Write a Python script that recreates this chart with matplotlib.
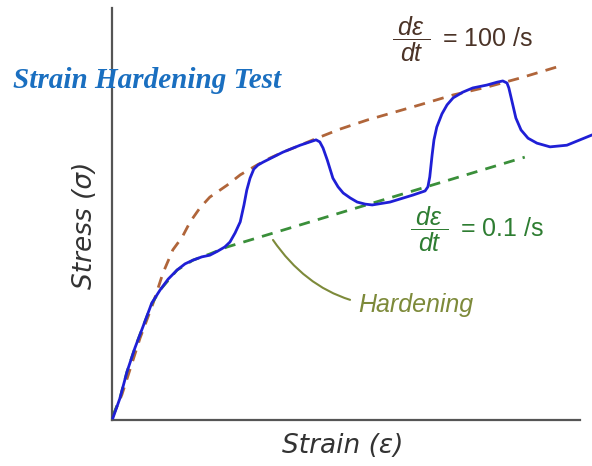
import matplotlib.pyplot as plt

plt.rcParams['mathtext.fontset'] = 'custom'
plt.rcParams['mathtext.rm'] = 'Liberation Sans'
plt.rcParams['mathtext.it'] = 'Liberation Sans:italic'

# strain / stress readings (arbitrary units, 0-100)
strain_test = [0.2, 1.7, 3.2, 4.9, 6.6, 8.5, 10.3, 12.0, 13.9, 15.6,
               17.3, 19.2, 20.9, 22.6, 24.1, 25.2, 26.3, 27.4, 28.2, 28.8,
               29.5, 30.3, 31.2, 32.3, 34.4, 36.5, 40.2, 42.3, 43.6, 44.4,
               45.1, 46.0, 47.2, 48.3, 49.4, 50.9, 52.4, 54.1, 55.6, 59.4,
               64.3, 66.9, 67.5, 67.9, 68.4, 68.8, 69.4, 70.5, 71.6, 72.9,
               75.0, 77.1, 80.1, 82.3, 83.5, 84.4, 84.8, 85.5, 86.3, 87.4,
               88.9, 90.8, 93.6, 97.2, 100.0, 102.6]
stress_test = [0.5, 5.3, 11.7, 17.5, 22.6, 28.4, 31.6, 34.2, 36.4, 37.9,
               38.8, 39.6, 40.0, 41.0, 42.0, 43.2, 45.4, 48.1, 52.2, 55.8,
               58.7, 60.9, 61.9, 62.6, 63.8, 65.0, 66.7, 67.5, 68.0, 67.5,
               66.0, 63.1, 58.7, 56.6, 55.1, 53.9, 52.9, 52.4, 52.2, 52.9,
               54.6, 55.6, 56.6, 59.0, 64.3, 68.0, 71.1, 74.3, 76.5, 78.2,
               79.6, 80.6, 81.3, 82.0, 82.3, 81.8, 80.6, 77.2, 73.3, 70.4,
               68.4, 67.2, 66.3, 66.7, 68.0, 69.2]

strain_fast = [0.2, 2.1, 3.8, 6.0, 8.8, 10.9, 13.0, 15.0, 16.7, 18.8, 20.9, 24.6, 27.4, 31.0,
               33.8, 36.5, 40.2, 43.8, 48.7, 54.5, 65.8, 72.9, 80.1, 87.2, 95.1]
stress_fast = [1.0, 6.1, 12.1, 19.9, 28.4, 35.7, 41.3, 44.4, 48.1, 51.5, 54.1, 57.0, 59.5, 61.9,
               63.6, 65.0, 66.7, 68.4, 70.6, 72.8, 76.5, 78.9, 80.8, 83.0, 85.7]

strain_slow = [0.2, 1.7, 3.2, 4.9, 6.6, 8.5, 10.3, 13.9, 17.3, 20.9, 24.6, 88.2]
stress_slow = [1.0, 5.3, 11.7, 17.5, 22.6, 28.2, 31.6, 36.4, 38.8, 40.3, 42.0, 63.8]

fig = plt.figure(figsize=(5.92, 4.66), dpi=100)
ax = fig.add_axes([0.1892, 0.0987, 0.7905, 0.8841])

ax.plot(strain_fast, stress_fast, color='#b0653a', lw=2, dashes=(4, 3))
ax.plot(strain_slow, stress_slow, color='#3a8f3a', lw=2, dashes=(4, 3))
ax.plot(strain_test, stress_test, color='#1f1fd6', lw=2, clip_on=False, zorder=3,
        solid_joinstyle='round')

ax.set_xlim(0, 100)
ax.set_ylim(0, 100)
for s in ['top', 'right']:
    ax.spines[s].set_visible(False)
for s in ['left', 'bottom']:
    ax.spines[s].set_color('#555555')
    ax.spines[s].set_linewidth(1.6)
ax.set_xticks([])
ax.set_yticks([])

ax.set_xlabel('Strain (ε)', fontsize=19, style='italic', family='DejaVu Sans', color='#333333',
              va='center')
ax.set_ylabel('Stress (σ)', fontsize=19, style='italic', family='DejaVu Sans', color='#333333',
              va='center')
ax.xaxis.set_label_coords(0.494, -0.063)
ax.yaxis.set_label_coords(-0.058, 0.473)

# rate labels, fraction padded so the bar is wider than "dε"
ax.text(59.8, 92.5, r'$\dfrac{\;d\varepsilon\;}{dt}\,$ = 100 /s', fontsize=18, color='#4b3327',
        family='Liberation Sans', ha='left', va='center')
ax.text(63.7, 46.4, r'$\dfrac{\;d\varepsilon\;}{dt}\,$ = 0.1 /s', fontsize=18, color='#2e7d32',
        family='Liberation Sans', ha='left', va='center')

ax.annotate('Hardening', xy=(34.4, 43.7), xytext=(52.6, 27.9), fontsize=18, style='italic',
            family='Liberation Sans', color='#7d8a3a', ha='left', va='center',
            arrowprops=dict(arrowstyle='-', color='#7d8a3a', lw=1.5,
                            connectionstyle='arc3,rad=-0.3', shrinkA=4, shrinkB=0))

fig.text(13 / 592, 1 - 80 / 466, 'Strain Hardening Test', fontsize=21, color='#1a6fc0',
         family='Liberation Serif', weight='bold', style='italic', ha='left', va='center')

fig.savefig('out.png', dpi=100)
